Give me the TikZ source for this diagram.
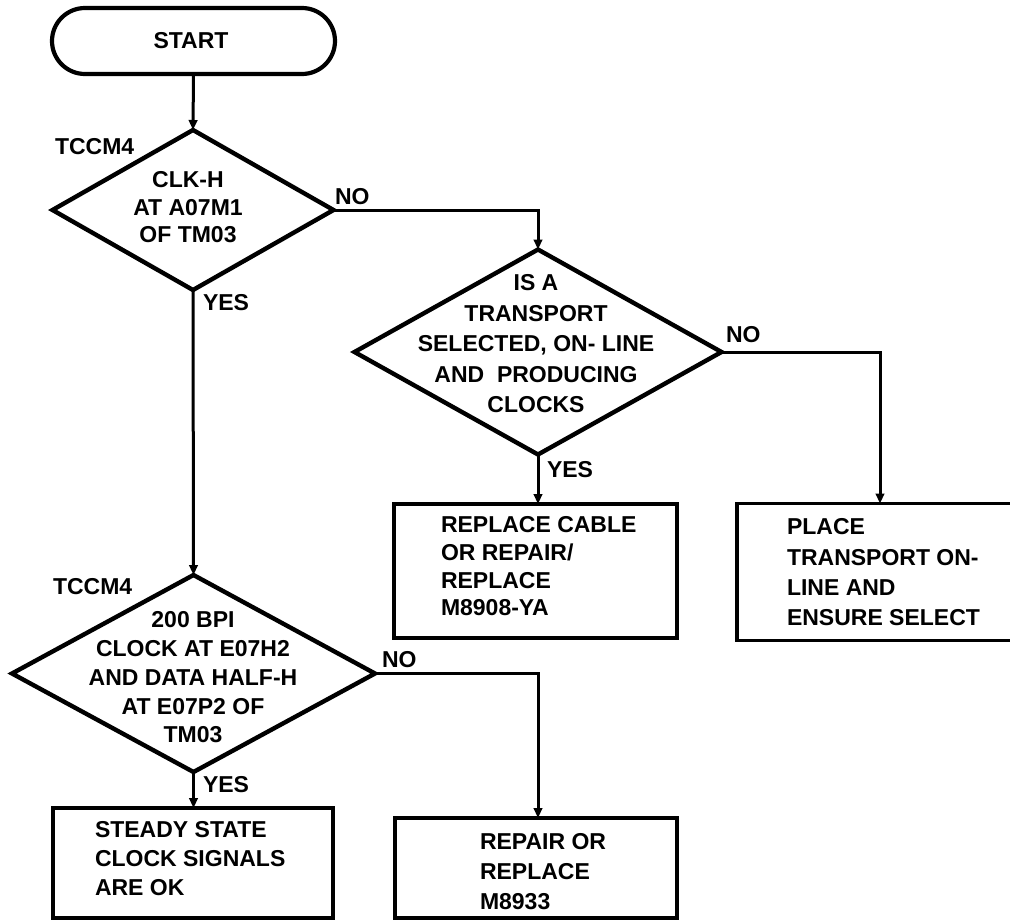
\documentclass[tikz,border=0pt]{standalone}
\usepackage{fontspec}
\setmainfont{Liberation Sans}
\usetikzlibrary{shapes.geometric,arrows.meta}

\begin{document}
\begin{tikzpicture}[x=1pt,y=-1pt,
  every node/.style={inner sep=0pt, outer sep=0pt},
  shapeline/.style={draw, line width=3.6pt},
  terminal/.style={shapeline, line width=4.2pt, rectangle, rounded corners=33pt,
    minimum width=283pt, minimum height=66pt},
  decision/.style={shapeline, line width=4.4pt, diamond},
  actionbox/.style={shapeline, rectangle},
  ctxt/.style={font=\fontsize{23}{#1}\selectfont\bfseries, align=center},
  ltxt/.style={font=\fontsize{23}{#1}\selectfont\bfseries, align=left, anchor=west},
  lbl/.style={font=\fontsize{23}{27}\selectfont\bfseries, anchor=west},
  flow/.style={line width=3pt, -{Triangle[length=10pt,width=8.5pt]}}
]
\clip (0,0) rectangle (1010,919);

% terminal
\node[terminal] (start) at (193.5,41) {};
\node[ctxt=27] (startt) at (191,41) {START};

% first decision
\node[decision, minimum width=281pt, minimum height=160pt] (d1) at (193,210) {};
\node[ctxt=27.5] (d1t) at (188,207.5) {CLK-H\\AT A07M1\\OF TM03};
\node[lbl] (tc1) at (55,147) {TCCM4};

% second decision
\node[decision, minimum width=367pt, minimum height=205pt] (d2) at (538,352) {};
\node[ctxt=30.5] (d2t) at (536,344) {IS A\\TRANSPORT\\SELECTED, ON- LINE\\AND\ \ PRODUCING\\CLOCKS};

% third decision
\node[decision, minimum width=363pt, minimum height=197pt] (d3) at (193.5,673.5) {};
\node[ctxt=28.75] (d3t) at (193,677.5) {200 BPI\\CLOCK AT E07H2\\AND DATA HALF-H\\AT E07P2 OF\\TM03};
\node[lbl] (tc2) at (53,587) {TCCM4};

% action boxes
\node[actionbox, minimum width=283pt, minimum height=134pt] (b1) at (535.5,571) {};
\node[ltxt=27.7] (b1t) at (441,566.5) {REPLACE CABLE\\OR REPAIR/\\REPLACE\\M8908-YA};

\node[actionbox, minimum width=290pt, minimum height=137pt] (b2) at (882,572) {};
\node[ltxt=30.3] (b2t) at (787,572.5) {PLACE\\TRANSPORT ON-\\LINE AND\\ENSURE SELECT};

\node[actionbox, minimum width=280pt, minimum height=110pt] (b3) at (193,863) {};
\node[ltxt=29] (b3t) at (95,859) {STEADY STATE\\CLOCK SIGNALS\\ARE OK};

\node[actionbox, minimum width=282pt, minimum height=100pt] (b4) at (536,868) {};
\node[ltxt=30] (b4t) at (480,872) {REPAIR OR\\REPLACE\\M8933};

% branch labels
\node[lbl] (no1) at (335,197) {NO};
\node[lbl] (yes1) at (203,303) {YES};
\node[lbl] (no2) at (726,335) {NO};
\node[lbl] (yes2) at (547,470) {YES};
\node[lbl] (no3) at (382,660) {NO};
\node[lbl] (yes3) at (203,785) {YES};

% connectors
\draw[flow] (start.south) -- (d1.north);
\draw[flow] (d1.east) -| (d2.north);
\draw[flow] (d1.south) -- (d3.north);
\draw[flow] (d2.south) -- (d2.south |- b1.north);
\draw[flow] (d2.east) -| ([xshift=143pt]b2.north west);
\draw[flow] (d3.south) -- (d3.south |- b3.north);
\draw[flow] (d3.east) -| ([xshift=2pt]b4.north);
\end{tikzpicture}
\end{document}
